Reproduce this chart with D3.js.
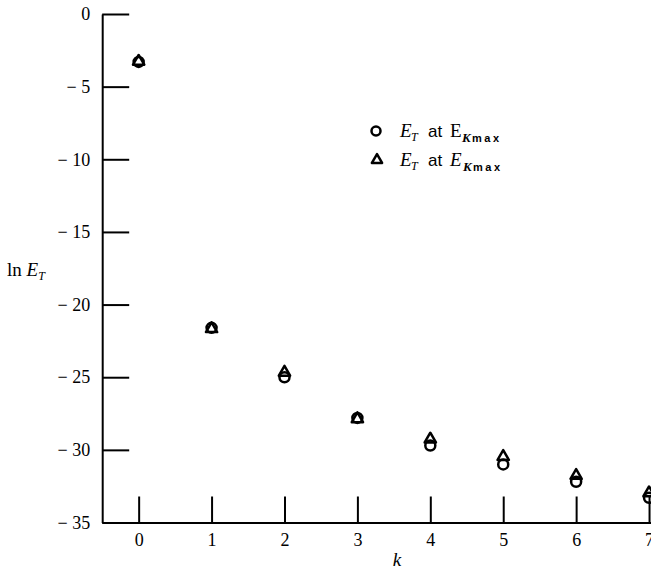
<!DOCTYPE html>
<html><head><meta charset="utf-8">
<script src="https://cdn.jsdelivr.net/npm/d3@7"></script>
<style>
html,body{margin:0;padding:0;background:#fff;}
svg{display:block;}
</style></head>
<body>
<script>
// ---- data ----
const kValues = [0, 1, 2, 3, 4, 5, 6, 7];
const circleSeries = [-3.3, -21.6, -25.0, -27.8, -29.7, -31.0, -32.2, -33.3];
const triangleSeries = [-3.2, -21.6, -24.6, -27.8, -29.2, -30.4, -31.7, -32.9];
const yTicks = [0, -5, -10, -15, -20, -25, -30, -35];
const xTicks = [0, 1, 2, 3, 4, 5, 6, 7];

const W = 651, H = 575;
const svg = d3.select("body").append("svg").attr("width", W).attr("height", H);

const x = d3.scaleLinear().domain([-0.5, 7.5]).range([102.2, 685.5]);
const y = d3.scaleLinear().domain([0, -35]).range([14, 522.5]);

const serif = "'Liberation Serif','Times New Roman',serif";
const sans = "'Liberation Sans',Arial,sans-serif";

// y axis
const yAxis = d3.axisLeft(y).tickValues(yTicks).tickSizeInner(-27).tickSizeOuter(0).tickPadding(12)
  .tickFormat(d => d === 0 ? "0" : "\u2212 " + Math.abs(d));
const gy = svg.append("g").attr("transform", `translate(${x(-0.5)},0)`).call(yAxis);
gy.select(".domain").attr("stroke", "#000").attr("stroke-width", 2);
gy.selectAll(".tick line").attr("stroke", "#000").attr("stroke-width", 2);
gy.selectAll(".tick text").attr("font-family", serif).attr("font-size", 18).attr("fill", "#000");

// x axis
const xAxis = d3.axisBottom(x).tickValues(xTicks).tickSizeInner(-26).tickSizeOuter(0).tickPadding(11)
  .tickFormat(d3.format("d"));
const gx = svg.append("g").attr("transform", `translate(0,${y(-35)})`).call(xAxis);
gx.select(".domain").attr("stroke", "#000").attr("stroke-width", 2);
gx.selectAll(".tick line").attr("stroke", "#000").attr("stroke-width", 2);
gx.selectAll(".tick text").attr("font-family", serif).attr("font-size", 18).attr("fill", "#000");

// axis titles
const yl = svg.append("text").attr("x", 7).attr("y", 276)
  .attr("font-family", serif).attr("font-size", 19).attr("fill", "#000");
yl.append("tspan").text("ln ");
yl.append("tspan").attr("font-style", "italic").text("E");
yl.append("tspan").attr("font-style", "italic").attr("font-size", 12).attr("dy", 4).text("T");

svg.append("text").attr("x", 397).attr("y", 566).attr("text-anchor", "middle")
  .attr("font-family", serif).attr("font-size", 19).attr("font-style", "italic").text("k");

// markers
const mk = svg.append("g");
mk.selectAll("circle.c").data(kValues).join("circle").attr("class", "c")
  .attr("cx", d => x(d)).attr("cy", (d, i) => y(circleSeries[i])).attr("r", 5)
  .attr("fill", "none").attr("stroke", "#000").attr("stroke-width", 2.5);
const tri = d3.symbol().type(d3.symbolTriangle).size(55);
mk.selectAll("path.t").data(kValues).join("path").attr("class", "t")
  .attr("transform", (d, i) => `translate(${x(d)},${y(triangleSeries[i]) + 1})`)
  .attr("d", tri).attr("fill", "none").attr("stroke", "#000").attr("stroke-width", 2.5)
  .attr("stroke-linejoin", "round");

// legend
const lg = svg.append("g");
lg.append("circle").attr("cx", 376).attr("cy", 131).attr("r", 4.5)
  .attr("fill", "none").attr("stroke", "#000").attr("stroke-width", 2.5);
lg.append("path").attr("transform", "translate(377,160)").attr("d", d3.symbol().type(d3.symbolTriangle).size(45))
  .attr("fill", "none").attr("stroke", "#000").attr("stroke-width", 2.5).attr("stroke-linejoin", "round");

function legendText(yy, upright) {
  const t = lg.append("text").attr("y", yy).attr("font-family", serif).attr("fill", "#000");
  t.append("tspan").attr("x", 400).attr("font-size", 19).attr("font-style", "italic").text("E");
  t.append("tspan").attr("x", 411).attr("dy", 4).attr("font-size", 12).attr("font-style", "italic").text("T");
  t.append("tspan").attr("x", 428).attr("dy", -4).attr("font-family", sans).attr("font-size", 17).text("at");
  t.append("tspan").attr("x", 450).attr("font-size", 19).attr("font-style", upright ? "normal" : "italic").text("E");
  t.append("tspan").attr("x", upright ? 462 : 463).attr("dy", 5).attr("font-size", 13).attr("font-style", "italic").attr("font-weight", "bold").text("K");
  t.append("tspan").attr("x", upright ? 472 : 473).attr("font-family", sans).attr("font-weight", "bold").attr("font-size", 11)
    .attr("textLength", 27).text("max");
}
legendText(137, true);
legendText(166, false);
</script>
</body></html>
